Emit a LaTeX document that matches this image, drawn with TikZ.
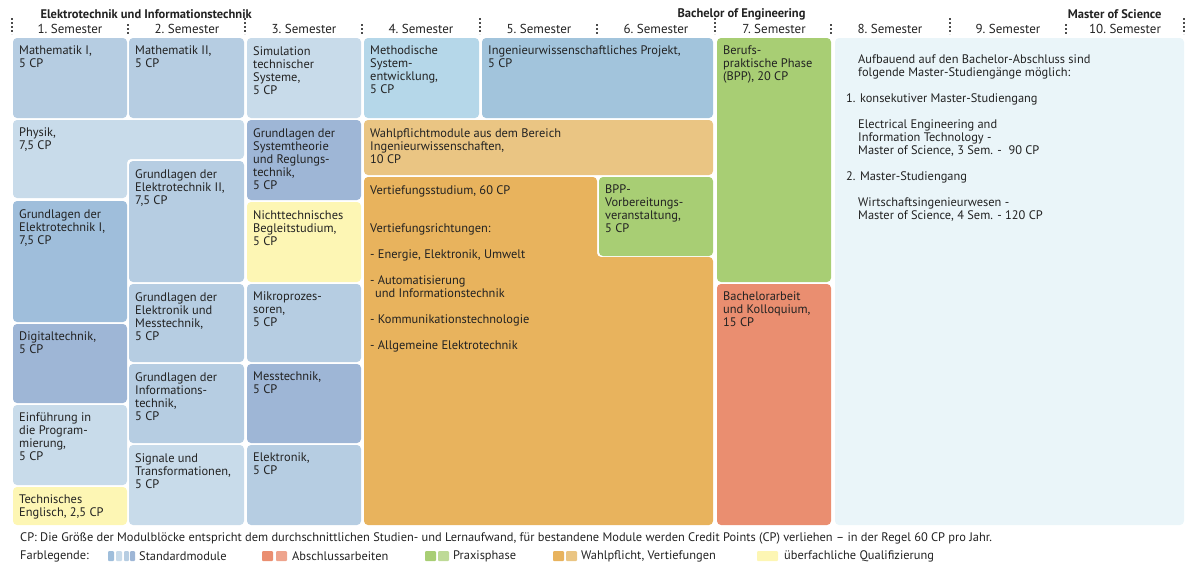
\documentclass[tikz,border=0pt]{standalone}
\usepackage{fontspec}
\setmainfont{PT Sans}
\definecolor{cA}{HTML}{B6CDE2}
\definecolor{cB}{HTML}{C8DBEA}
\definecolor{cC}{HTML}{9FBEDB}
\definecolor{cD}{HTML}{9EB6D6}
\definecolor{cE}{HTML}{B5D7E9}
\definecolor{cF}{HTML}{A2C4DC}
\definecolor{cG}{HTML}{A8CE74}
\definecolor{cO}{HTML}{E8B35D}
\definecolor{cO2}{HTML}{EAC583}
\definecolor{cR}{HTML}{EA8E70}
\definecolor{cY}{HTML}{FDF6B4}
\definecolor{cM}{HTML}{EAF5F9}
\definecolor{tx}{HTML}{222222}
\newcommand{\modbox}[7]{%
  \fill[#5,rounded corners=4pt] (#1,#2) rectangle (#3,#4);
  \node[txt] (#6) at (#1+1,#2+3) {#7};}
\begin{document}
\begin{tikzpicture}[x=1pt,y=-1pt,
  txt/.style={anchor=north west,align=left,inner sep=5pt,font=\fontsize{12.4}{13}\selectfont,text=tx},
  hd/.style={font=\fontsize{13}{13}\selectfont,text=tx},
  hb/.style={font=\fontsize{12.5}{13}\selectfont\bfseries,text=tx},
  sepl/.style={dash pattern=on 2pt off 2pt,line width=2.2pt,draw=black!70},
  sw/.style={rounded corners=1pt}]
\useasboundingbox (0,0) rectangle (1200,582);
% header
\node[hb,anchor=west] (t1) at (37,14) {Elektrotechnik und Informationstechnik};
\node[hb,anchor=east] (t2) at (809,14) {Bachelor of Engineering};
\node[hb,anchor=east] (t3) at (1165,14) {Master of Science};
\foreach \i/\xx in {1/70,2/187,3/304,4/421,5/539,6/656,7/774,8/890,9/1008,10/1125}
  \node[hd] (s\i) at (\xx,29) {\i.\ Semester};
\foreach \xx in {12,245,480,715,950,1184} \draw[sepl] (\xx,18) -- (\xx,34);
\foreach \xx in {128,362,597,831,1066} \draw[sepl] (\xx,24) -- (\xx,34);
% column 1
\modbox{13}{38}{127}{118}{cA}{m1}{Mathematik I,\\5 CP}
\fill[cB,rounded corners=4pt] (13,120) -- (244,120) -- (244,159) -- (127,159) -- (127,198) -- (13,198) -- cycle;
\node[txt] (m2) at (14,123) {Physik,\\7,5 CP};
\modbox{13}{201}{127}{322}{cC}{m3}{Grundlagen der\\Elektrotechnik I,\\7,5 CP}
\modbox{13}{324}{127}{403}{cD}{m4}{Digitaltechnik,\\5 CP}
\modbox{13}{405}{127}{485}{cB}{m5}{Einführung in\\die Program-\\mierung,\\5 CP}
\modbox{13}{487}{127}{525}{cY}{m6}{Technisches\\Englisch, 2,5 CP}
% column 2
\modbox{129}{38}{244}{118}{cA}{m7}{Mathematik II,\\5 CP}
\modbox{129}{161}{244}{282}{cA}{m8}{Grundlagen der\\Elektrotechnik II,\\7,5 CP}
\modbox{129}{284}{244}{362}{cA}{m9}{Grundlagen der\\Elektronik und\\Messtechnik,\\5 CP}
\modbox{129}{364}{244}{443}{cA}{m10}{Grundlagen der\\Informations-\\technik,\\5 CP}
\modbox{129}{445}{244}{525}{cB}{m11}{Signale und\\Transformationen,\\5 CP}
% column 3
\modbox{247}{38}{361}{118}{cB}{m12}{Simulation\\technischer\\Systeme,\\5 CP}
\modbox{247}{120}{361}{200}{cD}{m13}{Grundlagen der\\Systemtheorie\\und Reglungs-\\technik,\\5 CP}
\modbox{247}{202}{361}{282}{cY}{m14}{Nichttechnisches\\Begleitstudium,\\5 CP}
\modbox{247}{284}{361}{362}{cA}{m15}{Mikroprozes-\\soren,\\5 CP}
\modbox{247}{364}{361}{443}{cD}{m16}{Messtechnik,\\5 CP}
\modbox{247}{445}{361}{525}{cA}{m17}{Elektronik,\\5 CP}
% column 4-6
\modbox{364}{38}{479}{118}{cE}{m18}{Methodische\\System-\\entwicklung,\\5 CP}
\modbox{482}{38}{713}{118}{cF}{m19}{Ingenieurwissenschaftliches Projekt,\\5 CP}
\modbox{364}{120}{713}{175}{cO2}{m20}{Wahlpflichtmodule aus dem Bereich\\Ingenieurwissenschaften,\\10 CP}
\fill[cO,rounded corners=4pt] (364,177) -- (597,177) -- (597,257) -- (713,257) -- (713,525) -- (364,525) -- cycle;
\node[txt] (m21) at (365,180) {Vertiefungsstudium, 60 CP\\[25pt]Vertiefungsrichtungen:\\[13pt]- Energie, Elektronik, Umwelt\\[13pt]- Automatisierung\\\hspace*{5pt}und Informationstechnik\\[13pt]- Kommunikationstechnologie\\[13pt]- Allgemeine Elektrotechnik};
\modbox{599}{177}{713}{256}{cG}{m22}{BPP-\\Vorbereitungs-\\veranstaltung,\\5 CP}
% column 7
\modbox{717}{38}{831}{282}{cG}{m23}{Berufs-\\praktische Phase\\(BPP), 20 CP}
\modbox{717}{284}{831}{525}{cR}{m24}{Bachelorarbeit\\und Kolloquium,\\15 CP}
% master
\fill[cM,rounded corners=4pt] (835,38) rectangle (1184,525);
\node[txt] (m25) at (841,49) {\hspace*{12pt}Aufbauend auf den Bachelor-Abschluss sind\\\hspace*{12pt}folgende Master-Studiengänge möglich:\\[13pt]1. konsekutiver Master-Studiengang\\[13pt]\hspace*{12pt}Electrical Engineering and\\\hspace*{12pt}Information Technology -\\\hspace*{12pt}Master of Science, 3 Sem. -\ \ 90 CP\\[13pt]2. Master-Studiengang\\[13pt]\hspace*{12pt}Wirtschaftsingenieurwesen -\\\hspace*{12pt}Master of Science, 4 Sem. - 120 CP};
% legend
\node[txt,anchor=west,inner sep=0pt] (l0) at (20,538) {CP: Die Größe der Modulblöcke entspricht dem durchschnittlichen Studien- und Lernaufwand, für bestandene Module werden Credit Points (CP) verliehen – in der Regel 60 CP pro Jahr.};
\node[txt,anchor=west,inner sep=0pt] (l1) at (20,556) {Farblegende:};
\fill[sw,cC] (108,551) rectangle (114,561); \fill[sw,cB] (116,551) rectangle (122,561); \fill[sw,cA] (124,551) rectangle (129,561); \fill[sw,cD] (130,551) rectangle (135,561);
\node[txt,anchor=west,inner sep=0pt] (l2) at (139,556) {Standardmodule};
\fill[sw,cR] (262,551) rectangle (273,561); \fill[sw,cR!80!white] (276,551) rectangle (287,561);
\node[txt,anchor=west,inner sep=0pt] (l3) at (292,556) {Abschlussarbeiten};
\fill[sw,cG] (425,551) rectangle (436,561); \fill[sw,cG!75!white] (438,551) rectangle (449,561);
\node[txt,anchor=west,inner sep=0pt] (l4) at (453,556) {Praxisphase};
\fill[sw,cO] (553,551) rectangle (564,561); \fill[sw,cO2] (566,551) rectangle (577,561);
\node[txt,anchor=west,inner sep=0pt] (l5) at (581,556) {Wahlpflicht, Vertiefungen};
\fill[sw,cY] (757,551) rectangle (778,561);
\node[txt,anchor=west,inner sep=0pt] (l6) at (784,556) {überfachliche Qualifizierung};
\end{tikzpicture}
\end{document}
